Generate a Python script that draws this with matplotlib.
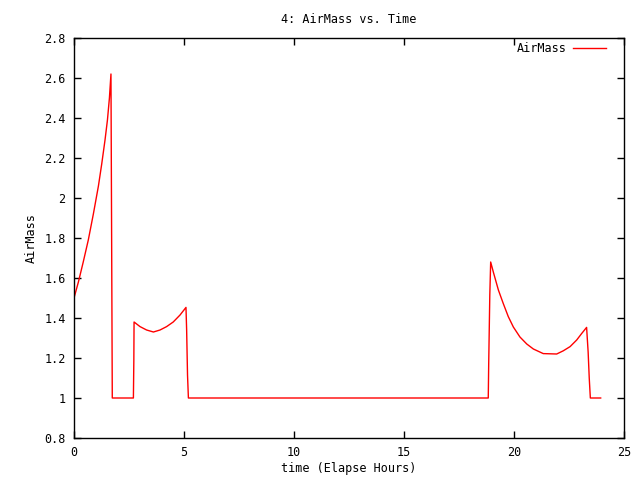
import matplotlib
matplotlib.use("Agg")
from matplotlib import pyplot as plt

# elapsed hours and airmass
hours = [0.0, 0.20, 0.42, 0.65, 0.88, 1.11, 1.26, 1.41, 1.52, 1.61, 1.68, 1.71, 1.74,
         2.70, 2.72, 2.73, 3.0, 3.30, 3.61, 3.91, 4.21, 4.51, 4.82, 5.09, 5.12, 5.16, 5.20,
         18.83, 18.85, 18.90, 18.94, 19.06, 19.29, 19.51, 19.74, 19.97, 20.27, 20.58, 20.88,
         21.33, 21.94, 22.24, 22.55, 22.85, 23.08, 23.30, 23.37, 23.42, 23.47, 23.94]
airmass = [1.50, 1.58, 1.68, 1.79, 1.92, 2.06, 2.17, 2.29, 2.39, 2.50, 2.62, 1.815, 1.0,
           1.0, 1.19, 1.38, 1.357, 1.34, 1.33, 1.34, 1.357, 1.38, 1.415, 1.453, 1.34, 1.115, 1.0,
           1.0, 1.17, 1.515, 1.68, 1.63, 1.54, 1.473, 1.407, 1.355, 1.305, 1.27, 1.245,
           1.222, 1.22, 1.236, 1.257, 1.29, 1.323, 1.353, 1.23, 1.10, 1.0, 1.0]

xticks = [0, 5, 10, 15, 20, 25]
yticks = [0.8, 1, 1.2, 1.4, 1.6, 1.8, 2, 2.2, 2.4, 2.6, 2.8]
ylabels = ["0.8", "1", "1.2", "1.4", "1.6", "1.8", "2", "2.2", "2.4", "2.6", "2.8"]

plt.rcParams['font.family'] = ['DejaVu Sans Mono']
plt.rcParams['font.size'] = 8.5

fig = plt.figure(figsize=(6.4, 4.8), dpi=100)
ax = fig.add_axes([74/640, 42/480, 550/640, 400/480])
ax.plot(hours, airmass, c='red', lw=1, label='AirMass')
ax.set_xlim(0, 25)
ax.set_ylim(0.8, 2.8)
ax.set_xticks(xticks)
ax.set_yticks(yticks)
ax.set_yticklabels(ylabels)
ax.tick_params(direction='in', top=True, right=True, length=5, width=1, pad=6)
for s in ax.spines.values():
    s.set_linewidth(1)
ax.set_title("4: AirMass vs. Time", fontsize=8.5, pad=11)
ax.set_xlabel("time (Elapse Hours)", fontsize=8.5, labelpad=2)
ax.set_ylabel("AirMass", fontsize=8.5, labelpad=5)
ax.legend(loc='upper right', frameon=False, markerfirst=False, handlelength=2.8,
          handletextpad=0.5, borderaxespad=0.3,
          bbox_to_anchor=(1 - 10/550, 1 + 4/400))
fig.savefig("out.png", dpi=100)
